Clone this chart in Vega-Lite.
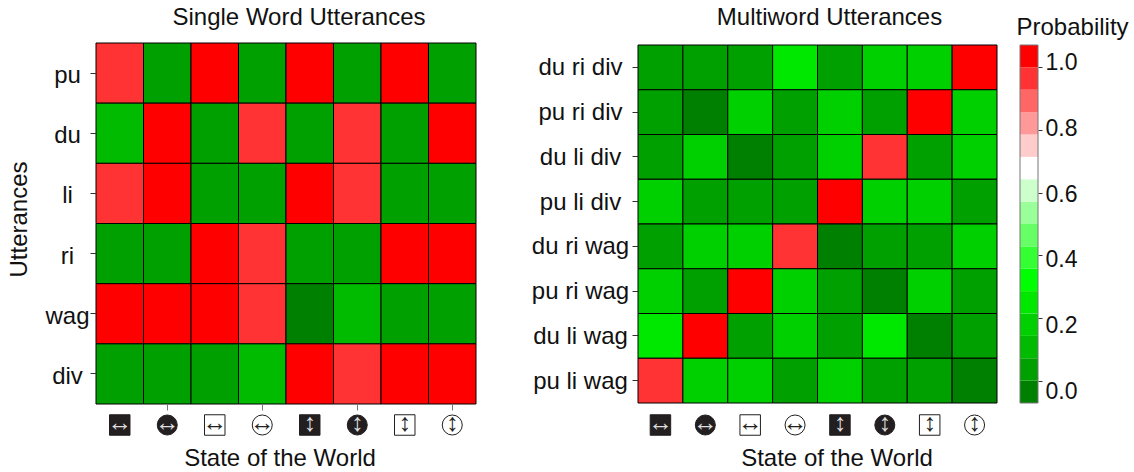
{"$schema":"https://vega.github.io/schema/vega-lite/v6.json",
"padding":{"left":7,"top":5,"right":0,"bottom":0},
"background":"white",
"config":{"font":"Liberation Sans","view":{"stroke":null},"title":{"font":"Liberation Sans","fontWeight":"normal","fontSize":24,"color":"#111111"},"axis":{"labelFont":"Liberation Sans","titleFont":"Liberation Sans","titleFontWeight":"normal","labelColor":"#111111","titleColor":"#111111","labelFontSize":24,"titleFontSize":24,"grid":false,"tickColor":"#333333","domain":false}},
"datasets":{
"single":[
{"u":"pu","s":"h-box-dark","p":0.97},{"u":"pu","s":"h-disc-dark","p":0.03},{"u":"pu","s":"h-box-light","p":1},{"u":"pu","s":"h-disc-light","p":0.03},{"u":"pu","s":"v-box-dark","p":1},{"u":"pu","s":"v-disc-dark","p":0.03},{"u":"pu","s":"v-box-light","p":1},{"u":"pu","s":"v-disc-light","p":0.03},
{"u":"du","s":"h-box-dark","p":0.1},{"u":"du","s":"h-disc-dark","p":1},{"u":"du","s":"h-box-light","p":0.03},{"u":"du","s":"h-disc-light","p":0.97},{"u":"du","s":"v-box-dark","p":0.03},{"u":"du","s":"v-disc-dark","p":0.97},{"u":"du","s":"v-box-light","p":0.03},{"u":"du","s":"v-disc-light","p":1},
{"u":"li","s":"h-box-dark","p":0.97},{"u":"li","s":"h-disc-dark","p":1},{"u":"li","s":"h-box-light","p":0.03},{"u":"li","s":"h-disc-light","p":0.03},{"u":"li","s":"v-box-dark","p":1},{"u":"li","s":"v-disc-dark","p":0.97},{"u":"li","s":"v-box-light","p":0.03},{"u":"li","s":"v-disc-light","p":0.03},
{"u":"ri","s":"h-box-dark","p":0.03},{"u":"ri","s":"h-disc-dark","p":0.03},{"u":"ri","s":"h-box-light","p":1},{"u":"ri","s":"h-disc-light","p":0.97},{"u":"ri","s":"v-box-dark","p":0.03},{"u":"ri","s":"v-disc-dark","p":0.03},{"u":"ri","s":"v-box-light","p":1},{"u":"ri","s":"v-disc-light","p":1},
{"u":"wag","s":"h-box-dark","p":1},{"u":"wag","s":"h-disc-dark","p":1},{"u":"wag","s":"h-box-light","p":1},{"u":"wag","s":"h-disc-light","p":0.97},{"u":"wag","s":"v-box-dark","p":0},{"u":"wag","s":"v-disc-dark","p":0.1},{"u":"wag","s":"v-box-light","p":0.03},{"u":"wag","s":"v-disc-light","p":0.03},
{"u":"div","s":"h-box-dark","p":0.03},{"u":"div","s":"h-disc-dark","p":0.03},{"u":"div","s":"h-box-light","p":0.03},{"u":"div","s":"h-disc-light","p":0.1},{"u":"div","s":"v-box-dark","p":1},{"u":"div","s":"v-disc-dark","p":0.97},{"u":"div","s":"v-box-light","p":1},{"u":"div","s":"v-disc-light","p":1}
],
"multi":[
{"u":"du ri div","s":"h-box-dark","p":0.03},{"u":"du ri div","s":"h-disc-dark","p":0.03},{"u":"du ri div","s":"h-box-light","p":0.03},{"u":"du ri div","s":"h-disc-light","p":0.25},{"u":"du ri div","s":"v-box-dark","p":0.03},{"u":"du ri div","s":"v-disc-dark","p":0.18},{"u":"du ri div","s":"v-box-light","p":0.18},{"u":"du ri div","s":"v-disc-light","p":1},
{"u":"pu ri div","s":"h-box-dark","p":0.03},{"u":"pu ri div","s":"h-disc-dark","p":0},{"u":"pu ri div","s":"h-box-light","p":0.18},{"u":"pu ri div","s":"h-disc-light","p":0.03},{"u":"pu ri div","s":"v-box-dark","p":0.18},{"u":"pu ri div","s":"v-disc-dark","p":0.03},{"u":"pu ri div","s":"v-box-light","p":1},{"u":"pu ri div","s":"v-disc-light","p":0.18},
{"u":"du li div","s":"h-box-dark","p":0.03},{"u":"du li div","s":"h-disc-dark","p":0.18},{"u":"du li div","s":"h-box-light","p":0},{"u":"du li div","s":"h-disc-light","p":0.03},{"u":"du li div","s":"v-box-dark","p":0.18},{"u":"du li div","s":"v-disc-dark","p":0.97},{"u":"du li div","s":"v-box-light","p":0.03},{"u":"du li div","s":"v-disc-light","p":0.18},
{"u":"pu li div","s":"h-box-dark","p":0.18},{"u":"pu li div","s":"h-disc-dark","p":0.03},{"u":"pu li div","s":"h-box-light","p":0.03},{"u":"pu li div","s":"h-disc-light","p":0.03},{"u":"pu li div","s":"v-box-dark","p":1},{"u":"pu li div","s":"v-disc-dark","p":0.18},{"u":"pu li div","s":"v-box-light","p":0.18},{"u":"pu li div","s":"v-disc-light","p":0.03},
{"u":"du ri wag","s":"h-box-dark","p":0.03},{"u":"du ri wag","s":"h-disc-dark","p":0.18},{"u":"du ri wag","s":"h-box-light","p":0.18},{"u":"du ri wag","s":"h-disc-light","p":0.97},{"u":"du ri wag","s":"v-box-dark","p":0},{"u":"du ri wag","s":"v-disc-dark","p":0.03},{"u":"du ri wag","s":"v-box-light","p":0.03},{"u":"du ri wag","s":"v-disc-light","p":0.18},
{"u":"pu ri wag","s":"h-box-dark","p":0.18},{"u":"pu ri wag","s":"h-disc-dark","p":0.03},{"u":"pu ri wag","s":"h-box-light","p":1},{"u":"pu ri wag","s":"h-disc-light","p":0.18},{"u":"pu ri wag","s":"v-box-dark","p":0.03},{"u":"pu ri wag","s":"v-disc-dark","p":0},{"u":"pu ri wag","s":"v-box-light","p":0.18},{"u":"pu ri wag","s":"v-disc-light","p":0.03},
{"u":"du li wag","s":"h-box-dark","p":0.25},{"u":"du li wag","s":"h-disc-dark","p":1},{"u":"du li wag","s":"h-box-light","p":0.03},{"u":"du li wag","s":"h-disc-light","p":0.18},{"u":"du li wag","s":"v-box-dark","p":0.03},{"u":"du li wag","s":"v-disc-dark","p":0.25},{"u":"du li wag","s":"v-box-light","p":0},{"u":"du li wag","s":"v-disc-light","p":0.03},
{"u":"pu li wag","s":"h-box-dark","p":0.97},{"u":"pu li wag","s":"h-disc-dark","p":0.18},{"u":"pu li wag","s":"h-box-light","p":0.18},{"u":"pu li wag","s":"h-disc-light","p":0.03},{"u":"pu li wag","s":"v-box-dark","p":0.18},{"u":"pu li wag","s":"v-disc-dark","p":0.03},{"u":"pu li wag","s":"v-box-light","p":0.03},{"u":"pu li wag","s":"v-disc-light","p":0}
],
"icons":[
{"s":"h-box-dark","form":"box","tone":"dark","arrow":"↔"},{"s":"h-disc-dark","form":"disc","tone":"dark","arrow":"↔"},{"s":"h-box-light","form":"box","tone":"light","arrow":"↔"},{"s":"h-disc-light","form":"disc","tone":"light","arrow":"↔"},
{"s":"v-box-dark","form":"box","tone":"dark","arrow":"↕"},{"s":"v-disc-dark","form":"disc","tone":"dark","arrow":"↕"},{"s":"v-box-light","form":"box","tone":"light","arrow":"↕"},{"s":"v-disc-light","form":"disc","tone":"light","arrow":"↕"}
],
"bands":[
{"lo":-0.0714,"hi":0,"p":0},{"lo":0,"hi":0.0714,"p":0.03},{"lo":0.0714,"hi":0.1429,"p":0.1},{"lo":0.1429,"hi":0.2143,"p":0.18},{"lo":0.2143,"hi":0.2857,"p":0.25},{"lo":0.2857,"hi":0.3571,"p":0.32},{"lo":0.3571,"hi":0.4286,"p":0.39},{"lo":0.4286,"hi":0.5,"p":0.46},{"lo":0.5,"hi":0.5714,"p":0.54},{"lo":0.5714,"hi":0.6429,"p":0.61},{"lo":0.6429,"hi":0.7143,"p":0.68},{"lo":0.7143,"hi":0.7857,"p":0.75},{"lo":0.7857,"hi":0.8571,"p":0.82},{"lo":0.8571,"hi":0.9286,"p":0.89},{"lo":0.9286,"hi":1,"p":0.97},{"lo":1,"hi":1.0714,"p":1}
]},
"spacing":54,
"hconcat":[
{"spacing":10,"bounds":"flush","vconcat":[
 {"title":{"text":"Single Word Utterances","offset":13,"dx":13},"width":380,"height":361,"data":{"name":"single"},
  "mark":{"type":"rect","stroke":"#000000","strokeWidth":1},
  "encoding":{
   "x":{"field":"s","type":"nominal","sort":null,"scale":{"domain":["h-box-dark","h-disc-dark","h-box-light","h-disc-light","v-box-dark","v-disc-dark","v-box-light","v-disc-light"],"paddingInner":0,"paddingOuter":0},"axis":{"title":null,"labels":false,"values":["h-disc-dark","h-disc-light","v-disc-dark","v-disc-light"],"tickSize":6,"tickColor":"#777777"}},
   "y":{"field":"u","type":"nominal","scale":{"domain":["pu","du","li","ri","wag","div"],"paddingInner":0,"paddingOuter":0},"axis":{"title":"Utterances","tickSize":6,"labelAlign":"center","labelPadding":23,"labelOffset":3,"titlePadding":13,"titleY":176}},
   "color":{"field":"p","type":"quantitative","legend":null,"scale":{"type":"threshold","domain":[0.005,0.0714,0.1429,0.2143,0.2857,0.3571,0.4286,0.5,0.5714,0.6429,0.7143,0.7857,0.8571,0.9286,1],"range":["#008000","#00A000","#00BB00","#00D000","#00E800","#00FF00","#33FF33","#66FF66","#99FF99","#CCFFCC","#FFFFFF","#FFCCCC","#FF9999","#FF6666","#FF3333","#FF0000"]}}
  }},
 {"width":380,"height":22,"data":{"name":"icons"},
  "encoding":{"x":{"field":"s","type":"nominal","sort":null,"scale":{"domain":["h-box-dark","h-disc-dark","h-box-light","h-disc-light","v-box-dark","v-disc-dark","v-box-light","v-disc-light"],"paddingInner":0,"paddingOuter":0},"axis":{"title":"State of the World","labels":false,"ticks":false,"titlePadding":10,"titleX":183.5}}},
  "layer":[
   {"transform":[{"filter":"datum.form==='box'"}],"mark":{"type":"square","size":420,"filled":true,"opacity":1,"stroke":"#231f20","strokeWidth":1},"encoding":{"fill":{"field":"tone","type":"nominal","legend":null,"scale":{"domain":["dark","light"],"range":["#231f20","#ffffff"]}}}},
   {"transform":[{"filter":"datum.form==='disc'"}],"mark":{"type":"circle","size":400,"opacity":1,"stroke":"#231f20","strokeWidth":1},"encoding":{"fill":{"field":"tone","type":"nominal","legend":null,"scale":{"domain":["dark","light"],"range":["#231f20","#ffffff"]}}}},
   {"mark":{"type":"text","font":"Liberation Sans","fontSize":25,"baseline":"middle","dy":-2},"encoding":{"text":{"field":"arrow"},"color":{"field":"tone","type":"nominal","legend":null,"scale":{"domain":["dark","light"],"range":["#dddddd","#231f20"]}}}}
  ]}
]},
{"spacing":18,"hconcat":[
 {"spacing":10,"bounds":"flush","vconcat":[
  {"title":{"text":"Multiword Utterances","offset":13,"dx":12},"width":359,"height":361,"data":{"name":"multi"},
   "mark":{"type":"rect","stroke":"#000000","strokeWidth":1},
   "encoding":{
    "x":{"field":"s","type":"nominal","sort":null,"scale":{"domain":["h-box-dark","h-disc-dark","h-box-light","h-disc-light","v-box-dark","v-disc-dark","v-box-light","v-disc-light"],"paddingInner":0,"paddingOuter":0},"axis":{"title":null,"labels":false,"ticks":false}},
    "y":{"field":"u","type":"nominal","scale":{"domain":["du ri div","pu ri div","du li div","pu li div","du ri wag","pu ri wag","du li wag","pu li wag"],"range":[2,360],"paddingInner":0,"paddingOuter":0},"axis":{"title":null,"tickSize":6,"labelAlign":"center","labelPadding":52,"labelOffset":1}},
    "color":{"field":"p","type":"quantitative","legend":null,"scale":{"type":"threshold","domain":[0.005,0.0714,0.1429,0.2143,0.2857,0.3571,0.4286,0.5,0.5714,0.6429,0.7143,0.7857,0.8571,0.9286,1],"range":["#008000","#00A000","#00BB00","#00D000","#00E800","#00FF00","#33FF33","#66FF66","#99FF99","#CCFFCC","#FFFFFF","#FFCCCC","#FF9999","#FF6666","#FF3333","#FF0000"]}}
   }},
  {"width":359,"height":22,"data":{"name":"icons"},
   "encoding":{"x":{"field":"s","type":"nominal","sort":null,"scale":{"domain":["h-box-dark","h-disc-dark","h-box-light","h-disc-light","v-box-dark","v-disc-dark","v-box-light","v-disc-light"],"paddingInner":0,"paddingOuter":0},"axis":{"title":"State of the World","labels":false,"ticks":false,"titlePadding":10,"titleX":198.5}}},
   "layer":[
    {"transform":[{"filter":"datum.form==='box'"}],"mark":{"type":"square","size":420,"filled":true,"opacity":1,"stroke":"#231f20","strokeWidth":1},"encoding":{"fill":{"field":"tone","type":"nominal","legend":null,"scale":{"domain":["dark","light"],"range":["#231f20","#ffffff"]}}}},
    {"transform":[{"filter":"datum.form==='disc'"}],"mark":{"type":"circle","size":400,"opacity":1,"stroke":"#231f20","strokeWidth":1},"encoding":{"fill":{"field":"tone","type":"nominal","legend":null,"scale":{"domain":["dark","light"],"range":["#231f20","#ffffff"]}}}},
    {"mark":{"type":"text","font":"Liberation Sans","fontSize":25,"baseline":"middle","dy":-2},"encoding":{"text":{"field":"arrow"},"color":{"field":"tone","type":"nominal","legend":null,"scale":{"domain":["dark","light"],"range":["#dddddd","#231f20"]}}}}
   ]}
 ]},
 {"title":{"text":"Probability","anchor":"start","offset":3,"dx":-3},"width":18,"height":361,"data":{"name":"bands"},
  "encoding":{
   "y":{"field":"lo","type":"quantitative","scale":{"domain":[-0.0714,1.0714],"range":[360,2],"nice":false,"zero":false},"axis":{"orient":"right","title":null,"values":[0,0.2,0.4,0.6,0.8,1],"format":".1f","tickSize":4,"labelPadding":3,"labelFontSize":23,"labelOffset":{"expr":"11-16*datum.value"}}},
   "y2":{"field":"hi"}
  },
  "layer":[
   {"mark":{"type":"rect"},"encoding":{"color":{"field":"p","type":"quantitative","legend":null,"scale":{"type":"threshold","domain":[0.005,0.0714,0.1429,0.2143,0.2857,0.3571,0.4286,0.5,0.5714,0.6429,0.7143,0.7857,0.8571,0.9286,1],"range":["#008000","#00A000","#00BB00","#00D000","#00E800","#00FF00","#33FF33","#66FF66","#99FF99","#CCFFCC","#FFFFFF","#FFCCCC","#FF9999","#FF6666","#FF3333","#FF0000"]}}}},
   {"data":{"values":[{"lo":-0.0714,"hi":1.0714}]},"mark":{"type":"rect","fill":null,"stroke":"#777777","strokeWidth":1}}
  ]}
]}
]}
